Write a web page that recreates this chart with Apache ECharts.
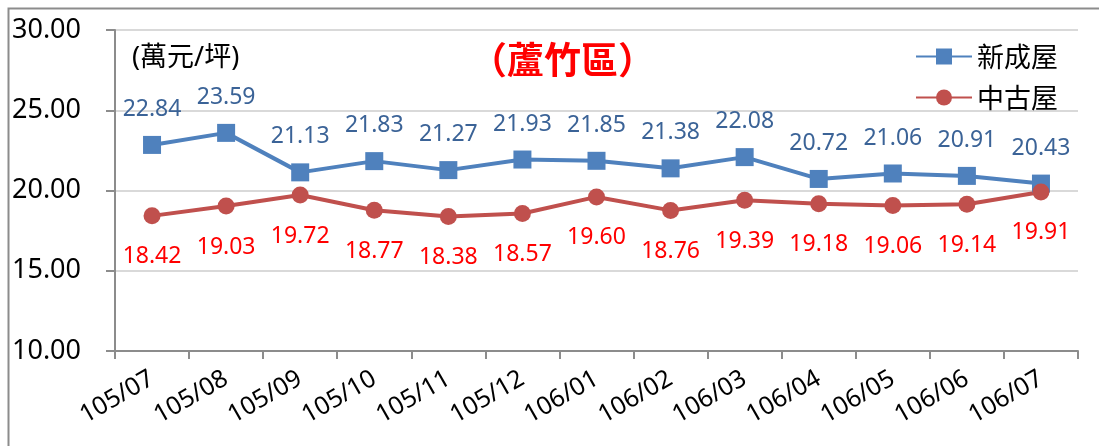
<!DOCTYPE html>
<html>
<head>
<meta charset="utf-8">
<script src="https://cdn.jsdelivr.net/npm/echarts@6/dist/echarts.min.js"></script>
<style>
  html, body { margin: 0; padding: 0; background: #fff; }
  #chart { width: 1099px; height: 446px; }
</style>
</head>
<body>
<div id="chart"></div>
<script>
// Monthly average price per ping, Luzhu district
const months = ['105/07', '105/08', '105/09', '105/10', '105/11', '105/12',
                '106/01', '106/02', '106/03', '106/04', '106/05', '106/06', '106/07'];
const newHomes = [22.84, 23.59, 21.13, 21.83, 21.27, 21.93, 21.85, 21.38, 22.08, 20.72, 21.06, 20.91, 20.43];
const usedHomes = [18.42, 19.03, 19.72, 18.77, 18.38, 18.57, 19.60, 18.76, 19.39, 19.18, 19.06, 19.14, 19.91];
const seriesNames = ['新成屋', '中古屋'];
const titleText = '（蘆竹區）';
const unitText = '(萬元/坪)';

const FONT = '"Noto Sans", "Noto Sans CJK TC", sans-serif';
const chart = echarts.init(document.getElementById('chart'));

chart.setOption({
  animation: false,
  textStyle: { fontFamily: FONT },
  graphic: [
    // outer frame
    { type: 'rect', shape: { x: 8.5, y: 8.5, width: 1200, height: 600 },
      style: { fill: 'none', stroke: '#8c8c8c', lineWidth: 2 }, silent: true },
    { type: 'text', left: 132, top: 45,
      style: { text: unitText, fontSize: 27, fill: '#000', fontFamily: FONT } },
    { type: 'text', left: 470, top: 41,
      style: { text: titleText, fontSize: 37, fontWeight: 'bold', fill: '#ff0000',
               fontFamily: '"Noto Sans CJK TC", sans-serif' } }
  ],
  legend: {
    orient: 'vertical',
    right: 36,
    top: 38,
    itemGap: 14,
    itemWidth: 56,
    itemHeight: 20,
    textStyle: { fontSize: 27, color: '#000', fontFamily: '"Noto Sans CJK TC", sans-serif' },
    data: seriesNames
  },
  grid: { left: 115, right: 21, top: 30, bottom: 95 },
  xAxis: {
    type: 'category',
    data: months,
    boundaryGap: true,
    axisLine: { lineStyle: { color: '#8c8c8c', width: 2 } },
    axisTick: { show: true, length: 8, alignWithLabel: false, lineStyle: { color: '#8c8c8c', width: 2 } },
    axisLabel: { rotate: 30, fontSize: 25, color: '#000', margin: 26, interval: 0 }
  },
  yAxis: {
    type: 'value',
    min: 10,
    max: 30,
    interval: 5,
    axisLine: { show: true, lineStyle: { color: '#8c8c8c', width: 2 } },
    axisTick: { show: true, length: 9, lineStyle: { color: '#8c8c8c', width: 2 } },
    splitLine: { lineStyle: { color: '#d9d9d9', width: 2 } },
    axisLabel: { fontSize: 27, color: '#000', margin: 34,
                 formatter: v => v.toFixed(2) }
  },
  series: [
    {
      name: seriesNames[0],
      type: 'line',
      data: newHomes,
      symbol: 'rect',
      symbolSize: 18,
      lineStyle: { color: '#4f81bd', width: 4 },
      itemStyle: { color: '#4f81bd' },
      label: { show: true, position: 'top', distance: 15, fontSize: 23,
               color: '#3b6397', formatter: p => p.value.toFixed(2) }
    },
    {
      name: seriesNames[1],
      type: 'line',
      data: usedHomes,
      symbol: 'circle',
      symbolSize: 17,
      lineStyle: { color: '#c0504d', width: 4 },
      itemStyle: { color: '#c0504d' },
      label: { show: true, position: 'bottom', distance: 21, fontSize: 23,
               color: '#ff0000', formatter: p => p.value.toFixed(2) }
    }
  ]
});
</script>
</body>
</html>
